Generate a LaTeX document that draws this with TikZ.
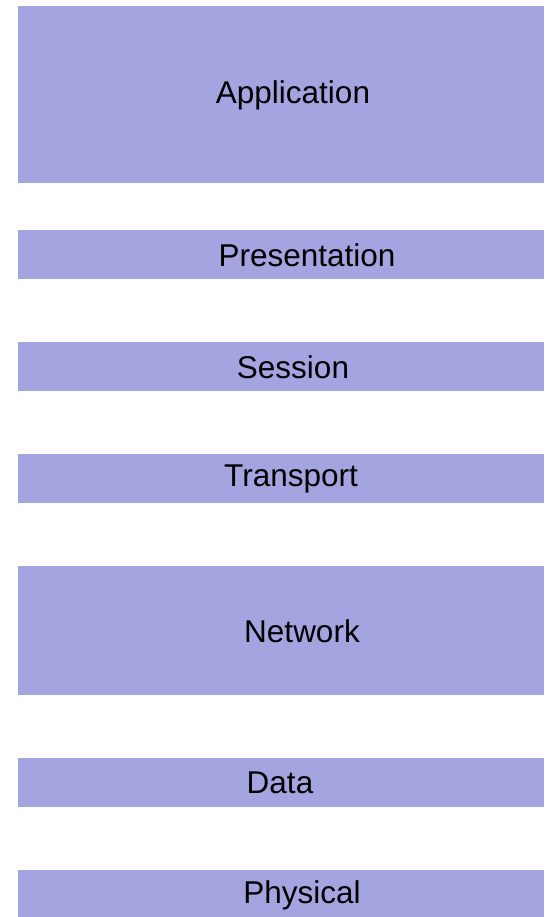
\documentclass[tikz,border=0pt]{standalone}
\usepackage{fontspec}
\setmainfont{Liberation Sans}
\definecolor{layerfill}{HTML}{A4A4E0}
\begin{document}
\begin{tikzpicture}[x=1pt,y=-1pt,
  layer/.style={fill=layerfill, draw=none, inner sep=0pt, anchor=north west, minimum width=526pt},
  lbl/.style={inner sep=0pt, font=\fontsize{31.5}{36}\selectfont, text=black}]
\useasboundingbox (0,0) rectangle (544,917);
\node[layer, minimum height=177pt] (app) at (18,6) {};
\node[layer, minimum height=49pt] (pre) at (18,230) {};
\node[layer, minimum height=49pt] (ses) at (18,342) {};
\node[layer, minimum height=49pt] (tra) at (18,454) {};
\node[layer, minimum height=129pt] (net) at (18,566) {};
\node[layer, minimum height=49pt] (dat) at (18,758) {};
\node[layer, minimum height=49pt] (phy) at (18,870) {};
\node[lbl] (tapp) at (293,95) {Application};
\node[lbl] (tpre) at (307,255) {Presentation};
\node[lbl] (tses) at (293,367) {Session};
\node[lbl] (ttra) at (291,479) {Transport};
\node[lbl] (tnet) at (302,631) {Network};
\node[lbl] (tdat) at (280,783) {Data};
\node[lbl] (tphy) at (302,895) {Physical};
\end{tikzpicture}
\end{document}
